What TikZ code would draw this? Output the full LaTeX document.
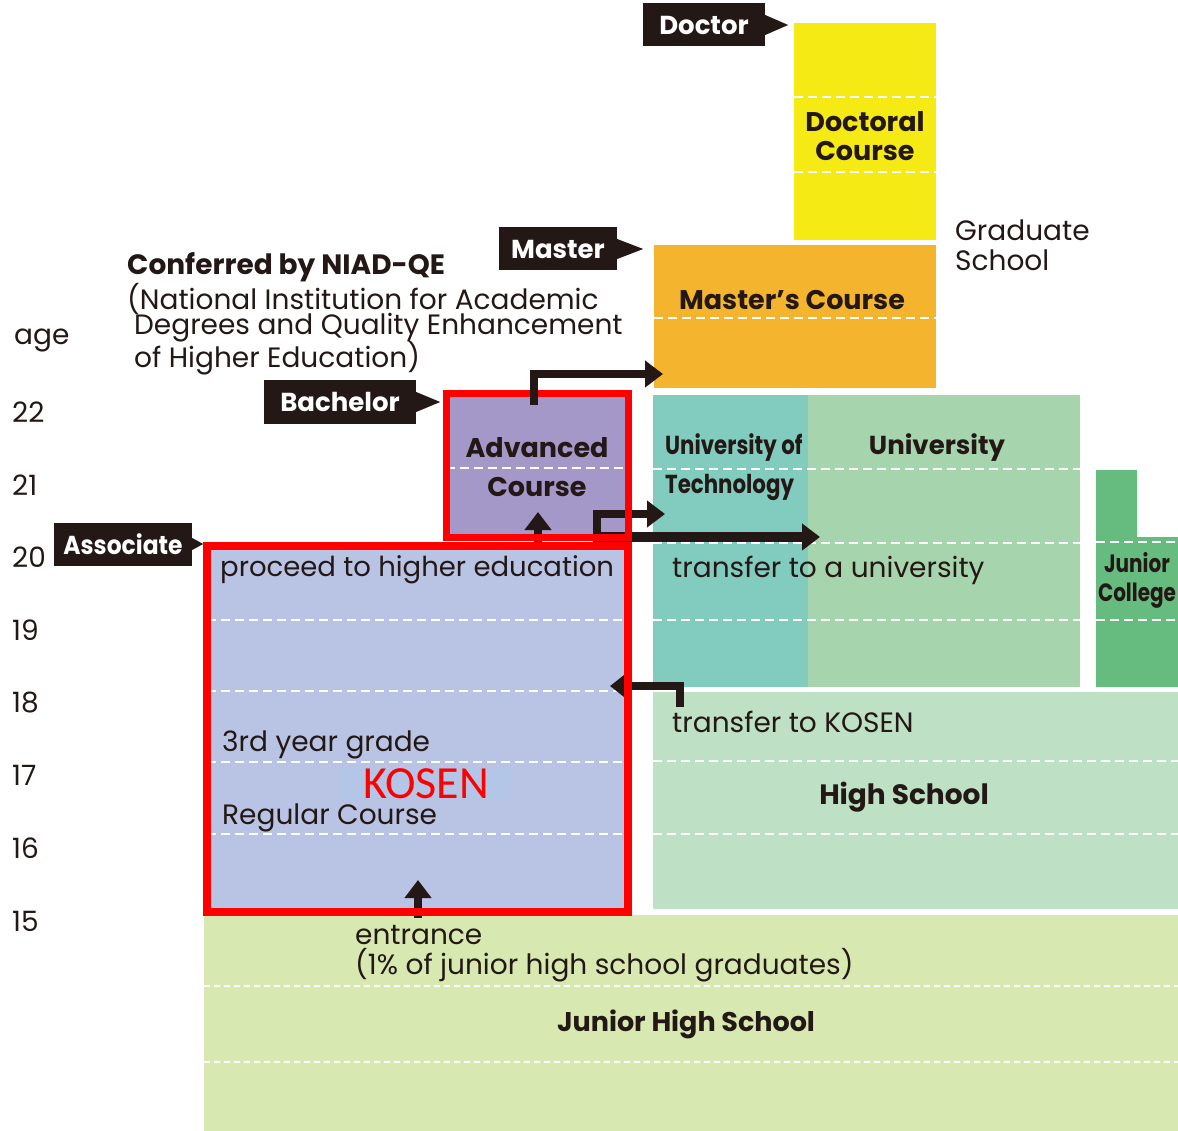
\documentclass[tikz,border=0pt]{standalone}
\usepackage{fontspec}
\setmainfont{Poppins}
\newfontfamily\kosenfont{Carlito}
\usetikzlibrary{arrows.meta, positioning}
\definecolor{InkBlack}{HTML}{231815}
\definecolor{DocYellow}{HTML}{F5EA14}
\definecolor{MasterOrange}{HTML}{F5B42E}
\definecolor{AdvPurple}{HTML}{A498C9}
\definecolor{RegBlue}{HTML}{B9C3E4}
\definecolor{TechTeal}{HTML}{82CBBF}
\definecolor{UniGreen}{HTML}{A6D4AC}
\definecolor{JcGreen}{HTML}{66BB7E}
\definecolor{HsGreen}{HTML}{BEE0C4}
\definecolor{JhsGreen}{HTML}{D7E8B0}
\definecolor{KosenRed}{HTML}{FF0000}
\definecolor{KosenMark}{HTML}{B4C6E7}

\begin{document}
\begin{tikzpicture}[x=1pt, y=-1pt,
    body/.style={font=\fontsize{28}{30}\selectfont, text=InkBlack, inner sep=0pt},
    side/.style={body, anchor=west},
    course/.style={body, font=\bfseries\fontsize{27}{29}\selectfont, align=center},
    narrow/.style={body, font=\bfseries\fontsize{26}{39}\selectfont},
    degree/.style={fill=InkBlack, text=white, font=\bfseries\fontsize{26}{26}\selectfont,
                   minimum height=43pt, inner sep=0pt},
    rowline/.style={white, line width=2.5pt, dash pattern=on 9pt off 5pt},
    flow/.style={InkBlack, line width=8pt, -{Triangle[length=18pt, width=26pt]}},
    kosenline/.style={KosenRed, line width=8pt}
  ]
  \useasboundingbox (0,0) rectangle (1178,1131);

  % Age scale
  \node[side] (age) at (14,340) {age};
  \foreach \a [count=\i from 0] in {22,21,...,15}
    \node[side, font=\fontsize{28}{28}\selectfont] (age\a) at (12,{412+72.7*\i}) {\a};

  % Graduate school
  \fill[DocYellow] (794,23) rectangle (936,240);
  \draw[rowline] (794,97) -- (936,97);
  \draw[rowline] (794,172) -- (936,172);
  \node[course] (doctoral) at (865,136) {Doctoral\\Course};
  \fill[MasterOrange] (654,245) rectangle (936,388);
  \draw[rowline] (654,318) -- (936,318);
  \node[course] (masters) at (792,300) {Master's Course};
  \node[side, align=left, font=\fontsize{28}{30}\selectfont] (graduate) at (955,245) {Graduate\\School};

  % Universities
  \fill[TechTeal] (653,395) rectangle (808,687);
  \fill[UniGreen] (808,395) rectangle (1080,687);
  \foreach \y in {469,543,620}
    \draw[rowline] (653,\y) -- (1080,\y);
  \node[narrow, anchor=west, align=left] (tech) at (665,467)
    {\scalebox{0.82}[1]{University of}\\\scalebox{0.82}[1]{Technology}};
  \node[course, font=\bfseries\fontsize{26}{29}\selectfont] (uni) at (937,448) {University};
  \node[side] (to uni) at (672,570) {transfer to a university};

  % Junior college
  \fill[JcGreen] (1096,470) -- (1137,470) -- (1137,537) -- (1178,537)
    -- (1178,687) -- (1096,687) -- cycle;
  \draw[rowline] (1096,542) -- (1178,542);
  \draw[rowline] (1096,620) -- (1178,620);
  \node[course, font=\bfseries\fontsize{25}{29}\selectfont] (jc) at (1137,580)
    {\scalebox{0.8}[1]{Junior}\\\scalebox{0.8}[1]{College}};

  % High school
  \fill[HsGreen] (653,692) rectangle (1178,909);
  \draw[rowline] (653,761) -- (1178,761);
  \draw[rowline] (653,834) -- (1178,834);
  \node[course, font=\bfseries\fontsize{28}{29}\selectfont] (hs) at (904,797) {High School};
  \node[side] (to kosen) at (672,722) {transfer to KOSEN};

  % Junior high school
  \fill[JhsGreen] (204,915) rectangle (1178,1131);
  \draw[rowline, dash pattern=on 6pt off 4pt] (204,986) -- (1178,986);
  \draw[rowline, dash pattern=on 6pt off 4pt] (204,1062) -- (1178,1062);
  \node[course] (jhs) at (686,1024) {Junior High School};
  \node[side] (entrance) at (355,935) {entrance};
  \node[side] (entrance note) at (355,965) {(1\% of junior high school graduates)};

  % KOSEN advanced and regular course
  \fill[AdvPurple] (446,394) rectangle (628,536);
  \draw[rowline] (446,468) -- (628,468);
  \node[course, font=\bfseries\fontsize{27}{39}\selectfont] (advanced) at (537,467) {Advanced\\Course};
  \fill[RegBlue] (207,546) rectangle (628,912);
  \foreach \y in {620,691,762,834}
    \draw[rowline] (207,\y) -- (628,\y);
  \node[side, font=\fontsize{27.5}{30}\selectfont] (proceed) at (220,570) {proceed to higher education};
  \node[side] (third) at (222,745) {3rd year grade};
  \node[side] (regular) at (222,818) {Regular Course};
  \node[fill=KosenMark, text=KosenRed, font=\kosenfont\fontsize{46}{46}\selectfont,
        minimum width=172pt, minimum height=32pt, inner sep=0pt] (kosen) at (426,784) {KOSEN};

  % Routes
  \coordinate (reg up) at (538,546);
  \coordinate (adv in) at (538,512);
  \coordinate (tech out) at (597,548);
  \coordinate (tech in) at (665,514);
  \coordinate (uni out) at (597,537);
  \coordinate (uni in) at (820,537);
  \coordinate (hs out) at (680,707);
  \coordinate (kosen in) at (610,686);
  \coordinate (jhs out) at (418,918);
  \coordinate (reg in) at (418,880);
  \coordinate (adv out) at (534,405);
  \coordinate (master in) at (663,374);
  \draw[flow] (reg up) -- (adv in);
  \draw[flow] (tech out) |- (tech in);
  \draw[flow, line width=10pt] (uni out) -- (uni in);
  \draw[flow, -{Triangle[length=14pt, width=21pt]}] (hs out) |- (kosen in);
  \draw[flow] (jhs out) -- (reg in);

  % KOSEN frame
  \draw[kosenline, line width=7pt] (446,394) rectangle (628,537);
  \draw[kosenline] (207,546) rectangle (628,912);
  \draw[flow] (adv out) |- (master in);

  % Degrees
  \node[body, anchor=west, font=\bfseries\fontsize{28}{30}\selectfont] (niad) at (127,267) {Conferred by NIAD-QE};
  \node[side] (niad1) at (127,299) {(National Institution for Academic};
  \node[side] (niad2) at (134,328) {Degrees and Quality Enhancement};
  \node[side] (niad3) at (134,358) {of Higher Education)};
  \node[degree, minimum width=122pt] (doctor) at (704,25) {Doctor};
  \node[degree, minimum width=118pt] (master) at (558,249) {Master};
  \node[degree, minimum width=152pt] (bachelor) at (340,402) {Bachelor};
  \node[degree, minimum width=138pt] (associate) at (123,544) {\scalebox{0.9}[1]{Associate}};
  \foreach \t/\w/\h in {doctor/23/10, master/26/10, bachelor/24/10, associate/11/6}
    \fill[InkBlack] (\t.east) ++(0,-\h) -- ++(\w,\h) -- ++(-\w,\h) -- cycle;
\end{tikzpicture}
\end{document}
